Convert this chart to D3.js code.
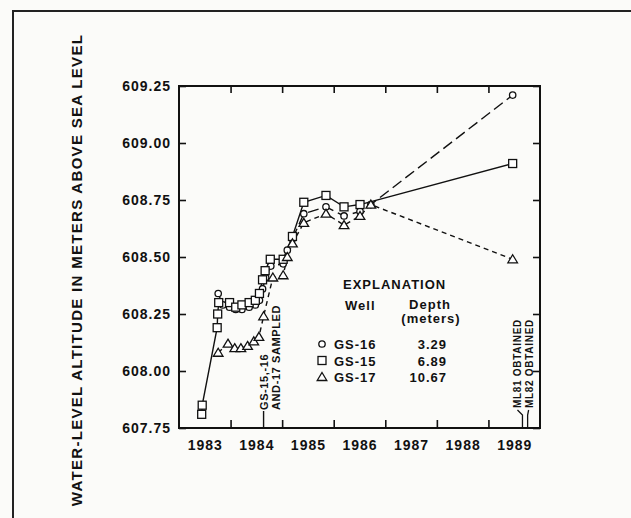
<!DOCTYPE html>
<html>
<head>
<meta charset="utf-8">
<script src="https://cdn.jsdelivr.net/npm/d3@7"></script>
<style>
  body{margin:0;background:#fbfbf9;}
  svg{display:block;font-family:"Liberation Sans",Arial,sans-serif;font-weight:bold;}
  .axis path{display:none;}
  .axis line{stroke:#111;stroke-width:1.6;}
  .axis text{fill:#111;font-size:14px;font-family:"Liberation Sans",Arial,sans-serif;font-weight:bold;letter-spacing:1px;}
</style>
</head>
<body>
<svg id="chart" width="631" height="518"></svg>
<script>
// water-level altitude, meters above sea level
var years15 = [1983.44, 1983.45, 1983.74, 1983.75, 1983.77, 1983.98, 1984.1, 1984.22, 1984.36, 1984.48, 1984.56, 1984.62, 1984.67, 1984.77, 1985.02, 1985.2, 1985.42, 1985.85, 1986.2, 1986.51, 1989.47];
var level15 = [607.81, 607.85, 608.19, 608.25, 608.30, 608.30, 608.28, 608.29, 608.30, 608.31, 608.34, 608.40, 608.44, 608.49, 608.49, 608.59, 608.74, 608.77, 608.72, 608.73, 608.91];

var years16 = [1983.76, 1983.85, 1983.98, 1984.1, 1984.22, 1984.36, 1984.48, 1984.56, 1984.62, 1984.68, 1984.78, 1985.02, 1985.1, 1985.2, 1985.42, 1985.85, 1986.2, 1986.51, 1986.72, 1989.47];
var level16 = [608.34, 608.29, 608.28, 608.27, 608.27, 608.28, 608.29, 608.31, 608.36, 608.41, 608.46, 608.47, 608.53, 608.58, 608.69, 608.72, 608.68, 608.70, 608.73, 609.21];

var years17 = [1983.76, 1983.95, 1984.08, 1984.2, 1984.33, 1984.45, 1984.55, 1984.64, 1984.82, 1985.02, 1985.1, 1985.2, 1985.42, 1985.85, 1986.2, 1986.51, 1986.72, 1989.47];
var level17 = [608.08, 608.12, 608.10, 608.10, 608.11, 608.13, 608.15, 608.24, 608.41, 608.42, 608.50, 608.56, 608.65, 608.69, 608.64, 608.68, 608.73, 608.49];

var wells = ['GS-16', 'GS-15', 'GS-17'];
var depths = ['3.29', '6.89', '10.67'];
var yearLabels = [1983, 1984, 1985, 1986, 1987, 1988, 1989];
var levelTicks = [607.75, 608.00, 608.25, 608.50, 608.75, 609.00, 609.25];

var sampledAt = 1984.64;
var obtainedAt = [1989.66, 1989.76];
var obtainedLabels = ['ML81 OBTAINED', 'ML82 OBTAINED'];

var svg = d3.select('#chart');
var plotLeft = 179, plotRight = 540, plotTop = 86, plotBottom = 428;

var x = d3.scaleLinear().domain([1983, 1990]).range([plotLeft, plotRight]);
var y = d3.scaleLinear().domain([607.75, 609.25]).range([plotBottom, plotTop]);

// outer page frame
svg.append('path')
  .attr('d', 'M13,518V11H631')
  .attr('fill', 'none').attr('stroke', '#222').attr('stroke-width', 2);

// plot box
svg.append('rect')
  .attr('x', plotLeft).attr('y', plotTop)
  .attr('width', plotRight - plotLeft).attr('height', plotBottom - plotTop)
  .attr('fill', 'none').attr('stroke', '#111').attr('stroke-width', 2);

var boundaries = yearLabels.slice(1);

svg.append('g').attr('class', 'axis')
  .attr('transform', 'translate(' + plotLeft + ',0)')
  .call(d3.axisLeft(y).tickValues(levelTicks).tickFormat(d3.format('.2f')).tickSizeInner(-7).tickSizeOuter(0).tickPadding(8));

svg.append('g').attr('class', 'axis')
  .attr('transform', 'translate(' + plotRight + ',0)')
  .call(d3.axisRight(y).tickValues(levelTicks).tickFormat('').tickSizeInner(-7).tickSizeOuter(0));

svg.append('g').attr('class', 'axis')
  .attr('transform', 'translate(0,' + plotBottom + ')')
  .call(d3.axisBottom(x).tickValues(boundaries).tickFormat('').tickSizeInner(-8).tickSizeOuter(0));

svg.append('g').attr('class', 'axis')
  .attr('transform', 'translate(0,' + plotTop + ')')
  .call(d3.axisTop(x).tickValues(boundaries).tickFormat('').tickSizeInner(-7).tickSizeOuter(0));

// year labels sit in the middle of each year
svg.append('g').attr('class', 'axis')
  .attr('transform', 'translate(0,' + plotBottom + ')')
  .call(d3.axisBottom(x).tickValues(yearLabels.map(function(d){ return d + 0.5; }))
    .tickFormat(function(d){ return Math.floor(d); }).tickSize(0).tickPadding(12));

svg.append('text')
  .attr('transform', 'translate(82,270) rotate(-90)')
  .attr('text-anchor', 'middle')
  .attr('font-size', 15).attr('letter-spacing', 1.3).attr('fill', '#111')
  .text('WATER-LEVEL ALTITUDE IN METERS ABOVE SEA LEVEL');

function series(years, levels){
  return years.map(function(d, i){ return [d, levels[i]]; });
}

var data = [
  { pts: series(years16, level16), dash: '11,5', shape: 'circle' },
  { pts: series(years15, level15), dash: null, shape: 'square' },
  { pts: series(years17, level17), dash: '5,4', shape: 'triangle' }
];

var line = d3.line().x(function(d){ return x(d[0]); }).y(function(d){ return y(d[1]); });

data.forEach(function(s){
  svg.append('path')
    .attr('d', line(s.pts))
    .attr('fill', 'none').attr('stroke', '#111').attr('stroke-width', 1.4)
    .attr('stroke-dasharray', s.dash);
});

function marker(g, shape, cx, cy){
  var m;
  if(shape == 'circle'){
    m = g.append('circle').attr('cx', cx).attr('cy', cy).attr('r', 3.2);
  } else if(shape == 'square'){
    m = g.append('rect').attr('x', cx - 4).attr('y', cy - 4).attr('width', 8).attr('height', 8);
  } else {
    m = g.append('path').attr('d', 'M' + cx + ',' + (cy - 4.5) + 'L' + (cx + 4.8) + ',' + (cy + 3.5) + 'L' + (cx - 4.8) + ',' + (cy + 3.5) + 'Z');
  }
  m.attr('fill', '#fff').attr('stroke', '#111').attr('stroke-width', 1.3);
}

var marks = svg.append('g');
data.forEach(function(s){
  s.pts.forEach(function(p){
    marker(marks, s.shape, x(p[0]), y(p[1]));
  });
});

// sampling and well notes
svg.append('line')
  .attr('x1', x(sampledAt)).attr('x2', x(sampledAt))
  .attr('y1', plotBottom).attr('y2', 411)
  .attr('stroke', '#111').attr('stroke-width', 1.4);

var note = svg.append('text')
  .attr('transform', 'translate(' + (x(sampledAt) + 4) + ',410) rotate(-90)')
  .attr('font-size', 11).attr('letter-spacing', 0.6).attr('fill', '#111');
note.append('tspan').attr('x', 0).attr('dy', 0).text('GS-15,-16');
note.append('tspan').attr('x', 0).attr('dy', 12).text('AND-17 SAMPLED');

obtainedAt.forEach(function(d, i){
  var cx = x(d);
  var tx = i == 0 ? cx - 5 : cx + 1;
  svg.append('path')
    .attr('d', 'M' + tx + ',410L' + cx + ',415V' + plotBottom)
    .attr('fill', 'none').attr('stroke', '#111').attr('stroke-width', 1.3);
  svg.append('text')
    .attr('transform', 'translate(' + (tx + 4) + ',408) rotate(-90)')
    .attr('font-size', 10).attr('letter-spacing', 0.7).attr('fill', '#111')
    .text(obtainedLabels[i]);
});

// explanation block
var leg = svg.append('g').attr('fill', '#111');
leg.append('text').attr('x', 343).attr('y', 289).attr('font-size', 13).attr('letter-spacing', 1).text('EXPLANATION');
leg.append('text').attr('x', 345).attr('y', 310).attr('font-size', 13).attr('letter-spacing', 1).text('Well');
leg.append('text').attr('x', 430).attr('y', 309).attr('text-anchor', 'middle').attr('font-size', 13).attr('letter-spacing', 1).text('Depth');
leg.append('text').attr('x', 431).attr('y', 323).attr('text-anchor', 'middle').attr('font-size', 13).attr('letter-spacing', 1).text('(meters)');

var shapes = ['circle', 'square', 'triangle'];
wells.forEach(function(w, i){
  var ry = 344 + i * 16.5;
  marker(leg, shapes[i], 322, ry);
  leg.append('text').attr('x', 334).attr('y', ry + 5).attr('font-size', 13).attr('letter-spacing', 1).text(w);
  leg.append('text').attr('x', 447).attr('y', ry + 5).attr('text-anchor', 'end').attr('font-size', 13).attr('letter-spacing', 1).text(depths[i]);
});
</script>
</body>
</html>
